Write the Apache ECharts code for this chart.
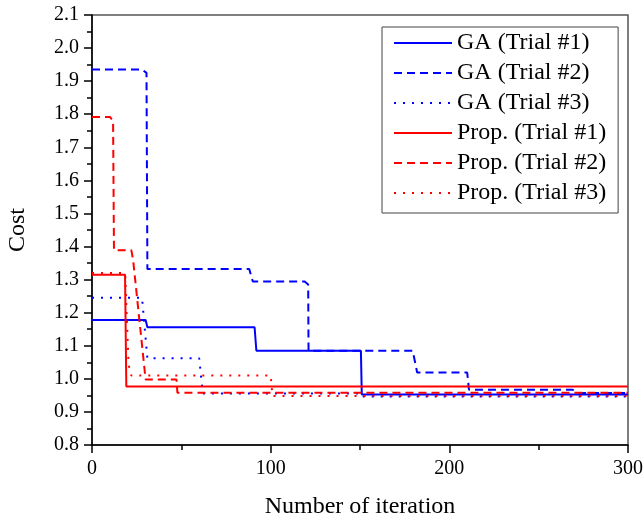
<!DOCTYPE html>
<html>
<head>
<meta charset="utf-8">
<script src="https://cdn.jsdelivr.net/npm/echarts@6/dist/echarts.min.js"></script>
<style>
html,body{margin:0;padding:0;background:#fff;}
#chart{width:644px;height:522px;}
</style>
</head>
<body>
<div id="chart"></div>
<script>
// Data (x = iteration, y = cost)
const seriesNames = ["GA (Trial #1)", "GA (Trial #2)", "GA (Trial #3)", "Prop. (Trial #1)", "Prop. (Trial #2)", "Prop. (Trial #3)"];
const gaTrial1 = [[0,1.178],[30,1.178],[31,1.156],[91,1.156],[92,1.085],[150.5,1.085],[151,0.953],[300,0.953]];
const gaTrial2 = [[0,1.935],[28,1.935],[30.5,1.925],[31,1.332],[88,1.332],[90,1.294],[119,1.294],[121,1.285],[121.2,1.085],[179.5,1.085],[182,1.019],[210,1.019],[211,0.967],[269,0.967],[272,0.957],[300,0.957]];
const gaTrial3 = [[0,1.245],[28,1.245],[31,1.062],[60,1.062],[62,0.956],[150.5,0.956],[151,0.947],[300,0.947]];
const propTrial1 = [[0,1.315],[18.5,1.315],[19.2,0.977],[300,0.977]];
const propTrial2 = [[0,1.792],[10,1.792],[11.8,1.78],[12.3,1.389],[22,1.389],[23,1.36],[30,0.998],[47.3,0.998],[47.8,0.958],[300,0.958]];
const propTrial3 = [[0,1.32],[18.5,1.32],[20.5,1.042],[22,1.01],[100,1.01],[101,0.948],[300,0.948]];
const xTicks = {min: 0, max: 300, interval: 100};
const yTicks = {min: 0.8, max: 2.1, interval: 0.1};

const serif = '"Liberation Serif", "Times New Roman", serif';
const blue = '#0000ff', red = '#ff0000';
const styles = [
  {color: blue, type: 'solid'},
  {color: blue, type: [8, 5]},
  {color: blue, type: [2, 7]},
  {color: red, type: 'solid'},
  {color: red, type: [8, 5]},
  {color: red, type: [2, 7]}
];
const dataSets = [gaTrial1, gaTrial2, gaTrial3, propTrial1, propTrial2, propTrial3];

const chart = echarts.init(document.getElementById('chart'), null, {renderer: 'canvas'});
chart.setOption({
  animation: false,
  backgroundColor: '#fff',
  grid: {left: 92, right: 16, top: 15, bottom: 77, containLabel: false, outerBoundsMode: 'none',
         show: true, borderColor: '#555', borderWidth: 1.5, backgroundColor: 'transparent'},
  legend: {
    orient: 'vertical', left: 382, top: 27,
    backgroundColor: '#fff',
    borderColor: '#444', borderWidth: 1,
    padding: [4, 12, 8, 11],
    itemWidth: 58, itemHeight: 14, itemGap: 6,
    itemStyle: {opacity: 0},
    textStyle: {fontFamily: serif, fontSize: 24, lineHeight: 24, color: '#000'},
    data: seriesNames
  },
  xAxis: {
    type: 'value', min: xTicks.min, max: xTicks.max, interval: xTicks.interval,
    name: 'Number of iteration', nameLocation: 'middle', nameGap: 50,
    nameTextStyle: {fontFamily: serif, fontSize: 24, color: '#000'},
    axisLine: {show: true, onZero: false, lineStyle: {color: '#000', width: 1.5}},
    axisTick: {show: true, length: 8, lineStyle: {color: '#000', width: 1.5}},
    minorTick: {show: true, splitNumber: 2, length: 5, lineStyle: {color: '#000', width: 1.5}},
    axisLabel: {fontFamily: serif, fontSize: 20, color: '#000', margin: 14},
    splitLine: {show: false}
  },
  yAxis: {
    type: 'value', min: yTicks.min, max: yTicks.max, interval: yTicks.interval,
    name: 'Cost', nameLocation: 'middle', nameGap: 62, nameRotate: 90,
    nameTextStyle: {fontFamily: serif, fontSize: 24, color: '#000'},
    axisLine: {show: true, onZero: false, lineStyle: {color: '#000', width: 1.5}},
    axisTick: {show: true, length: 8, lineStyle: {color: '#000', width: 1.5}},
    minorTick: {show: true, splitNumber: 2, length: 5, lineStyle: {color: '#000', width: 1.5}},
    axisLabel: {fontFamily: serif, fontSize: 20, color: '#000', margin: 13, formatter: v => v.toFixed(1)},
    splitLine: {show: false}
  },
  series: seriesNames.map((n, i) => ({
    name: n, type: 'line', data: dataSets[i], symbol: 'none', silent: true,
    color: styles[i].color,
    itemStyle: {color: styles[i].color, opacity: 0},
    lineStyle: {color: styles[i].color, width: 2, type: styles[i].type}
  }))
});
</script>
</body>
</html>
